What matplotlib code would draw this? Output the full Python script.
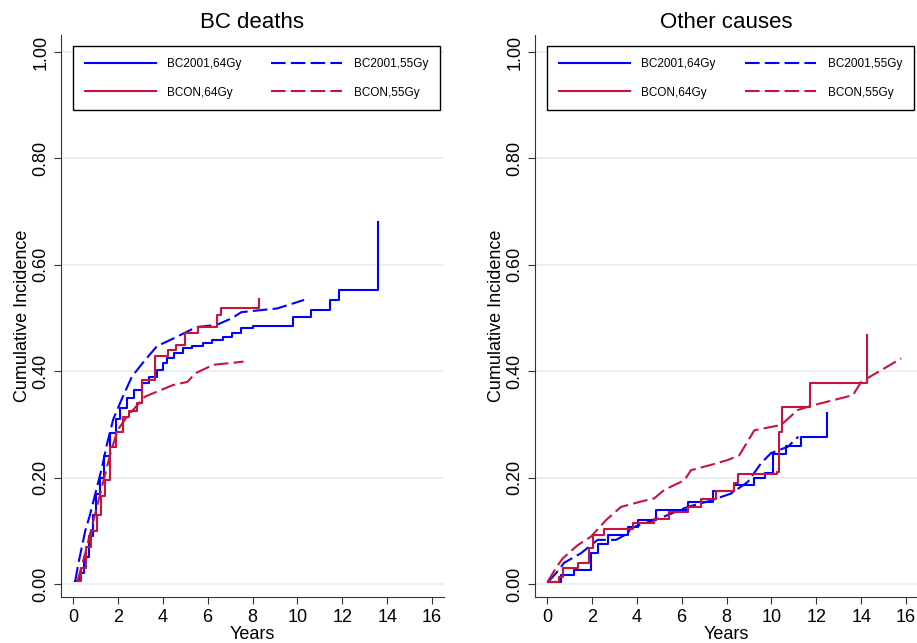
import matplotlib
matplotlib.use('Agg')
import matplotlib.pyplot as plt

plt.rcParams['font.family'] = ['Liberation Sans', 'DejaVu Sans']

BLUE = '#0000ff'
RED = '#c8143c'

# BC deaths (left panel)
bc_b64_t = [0.1, 0.3, 0.5, 0.7, 0.9, 1.05, 1.2, 1.4, 1.65, 1.9, 2.1, 2.4, 2.7, 3.07, 3.4, 3.74, 4.0, 4.2,
            4.5, 4.9, 5.3, 5.8, 6.2, 6.7, 7.1, 7.5, 8.0, 9.8, 10.6, 11.45, 11.84, 13.6]
bc_b64_y = [0.005, 0.02, 0.05, 0.09, 0.13, 0.17, 0.2, 0.24, 0.284, 0.31, 0.33, 0.35, 0.365, 0.378, 0.39, 0.402,
            0.415, 0.425, 0.435, 0.444, 0.448, 0.453, 0.458, 0.465, 0.472, 0.481, 0.485, 0.502, 0.515, 0.533,
            0.553, 0.681]
bc_b55_t = [0.1, 0.25, 0.4, 0.55, 0.76, 1.0, 1.3, 1.5, 1.8, 2.2, 2.63, 3.1, 3.74, 4.5, 5.5, 6.4, 7.1, 7.5, 9.1, 10.3]
bc_b55_y = [0.005, 0.04, 0.07, 0.1, 0.13, 0.17, 0.22, 0.26, 0.31, 0.35, 0.39, 0.415, 0.447, 0.462, 0.483, 0.487,
            0.5, 0.511, 0.518, 0.534]
bc_r64_t = [0.17, 0.35, 0.6, 0.8, 1.06, 1.25, 1.43, 1.65, 1.9, 2.23, 2.5, 2.84, 3.1, 3.65, 4.23, 4.6, 5.0, 5.58,
            6.4, 6.6, 8.3]
bc_r64_y = [0.005, 0.03, 0.07, 0.1, 0.13, 0.165, 0.195, 0.258, 0.285, 0.314, 0.325, 0.34, 0.383, 0.428, 0.44,
            0.449, 0.471, 0.483, 0.506, 0.518, 0.535]
bc_r55_t = [0.2, 0.5, 0.8, 1.1, 1.4, 1.7, 2.0, 2.4, 3.2, 3.88, 4.46, 5.1, 5.45, 6.25, 7.6]
bc_r55_y = [0.005, 0.05, 0.1, 0.15, 0.2, 0.25, 0.29, 0.314, 0.352, 0.364, 0.374, 0.38, 0.396, 0.412, 0.418]

# Other causes (right panel)
oc_b64_t = [0.05, 0.62, 1.22, 1.96, 2.26, 2.7, 3.6, 4.04, 4.86, 6.27, 7.38, 8.35, 9.24, 9.7, 10.06, 10.65, 11.32,
            12.48]
oc_b64_y = [0.004, 0.017, 0.026, 0.058, 0.076, 0.092, 0.108, 0.12, 0.139, 0.155, 0.174, 0.186, 0.2, 0.208, 0.244,
            0.26, 0.277, 0.321]
oc_b55_t = [0.05, 0.4, 0.77, 1.52, 2.26, 3.08, 3.6, 3.74, 5.23, 6.27, 7.16, 8.2, 8.95, 9.54, 9.98, 10.73, 11.2]
oc_b55_y = [0.004, 0.02, 0.04, 0.058, 0.083, 0.083, 0.095, 0.105, 0.127, 0.145, 0.155, 0.17, 0.192, 0.227, 0.246,
            0.258, 0.277]
oc_r64_t = [0.03, 0.55, 0.7, 1.37, 1.89, 2.04, 2.56, 3.82, 4.78, 5.45, 6.27, 6.86, 7.53, 8.32, 8.53, 10.25, 10.36,
            10.46, 11.74, 14.25]
oc_r64_y = [0.004, 0.014, 0.03, 0.039, 0.067, 0.092, 0.103, 0.114, 0.123, 0.135, 0.145, 0.159, 0.174, 0.189,
            0.206, 0.21, 0.286, 0.332, 0.377, 0.468]
oc_r55_t = [0.03, 0.4, 0.7, 1.37, 1.96, 2.63, 3.3, 4.19, 4.78, 5.23, 6.12, 6.42, 7.31, 8.05, 8.57, 9.24, 10.43,
            11.17, 11.77, 13.63, 14.0, 15.78]
oc_r55_y = [0.004, 0.03, 0.048, 0.073, 0.089, 0.12, 0.145, 0.155, 0.161, 0.177, 0.195, 0.214, 0.224, 0.233, 0.242,
            0.289, 0.299, 0.327, 0.335, 0.355, 0.38, 0.424]

labels = ['BC2001,64Gy', 'BCON,64Gy', 'BC2001,55Gy', 'BCON,55Gy']
xticks = list(range(0, 17, 2))
yticks = [0.0, 0.2, 0.4, 0.6, 0.8, 1.0]

DASH = (0, (7, 2.5))

fig = plt.figure(figsize=(9.17, 6.43), dpi=100)
ax1 = fig.add_axes([61 / 917, 1 - 597 / 643, 383 / 917, 562 / 643])
ax2 = fig.add_axes([535 / 917, 1 - 597 / 643, 383 / 917, 562 / 643])


def panel(ax, title, b64, b55, r64, r55):
	l1, = ax.plot(b64[0], b64[1], color=BLUE, lw=1.5, drawstyle='steps-post')
	l2, = ax.plot(b55[0], b55[1], color=BLUE, lw=1.5, linestyle=DASH)
	l3, = ax.plot(r64[0], r64[1], color=RED, lw=1.5, drawstyle='steps-post')
	l4, = ax.plot(r55[0], r55[1], color=RED, lw=1.5, linestyle=DASH)
	ax.set_xlim(-0.53, 16.53)
	ax.set_ylim(-0.0244, 1.032)
	ax.set_xticks(xticks)
	ax.set_yticks(yticks)
	ax.set_yticklabels(['%.2f' % v for v in yticks], rotation=90, va='center')
	ax.tick_params(labelsize=13, length=5, color='#333333', direction='out')
	for s in ['top', 'right']:
		ax.spines[s].set_visible(False)
	for s in ['left', 'bottom']:
		ax.spines[s].set_color('#333333')
	ax.grid(axis='y', color='#e8f0f2', lw=1.5)
	ax.set_axisbelow(True)
	ax.set_xlabel('Years', fontsize=13, labelpad=0)
	ax.set_ylabel('Cumulative Incidence', fontsize=13, labelpad=1)
	ax.set_title(title, fontsize=16, pad=5)
	# legend is column-major: first column 64Gy, second column 55Gy
	leg = ax.legend([l1, l3, l2, l4], labels, ncol=2, loc='upper left',
		bbox_to_anchor=(0.031, 0.98, 0.959, 0.0), mode='expand', borderaxespad=0,
		fontsize=8.5, handlelength=6.0, handletextpad=1.0, labelspacing=1.4,
		borderpad=1.0, fancybox=False, framealpha=1, edgecolor='black')
	leg.get_frame().set_linewidth(1.0)


panel(ax1, 'BC deaths', (bc_b64_t, bc_b64_y), (bc_b55_t, bc_b55_y), (bc_r64_t, bc_r64_y), (bc_r55_t, bc_r55_y))
panel(ax2, 'Other causes', (oc_b64_t, oc_b64_y), (oc_b55_t, oc_b55_y), (oc_r64_t, oc_r64_y), (oc_r55_t, oc_r55_y))

fig.savefig('out.png', dpi=100)
